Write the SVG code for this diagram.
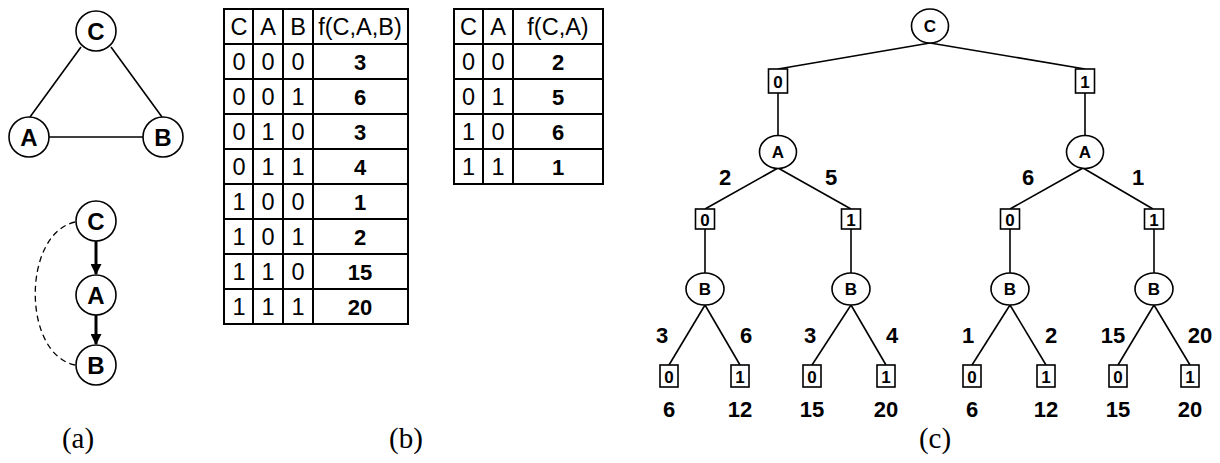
<svg xmlns="http://www.w3.org/2000/svg" width="1220" height="463" viewBox="0 0 1220 463">
<style>
.n{fill:#fff;stroke:#000;stroke-width:1.6}
.e{stroke:#000;stroke-width:1.6;fill:none}
.t{stroke:#000;stroke-width:2;fill:none}
.lb{font-family:"Liberation Sans",Arial,sans-serif;font-weight:bold;text-anchor:middle;fill:#000}
.tx{font-family:"Liberation Sans",Arial,sans-serif;text-anchor:middle;fill:#000;font-size:23.5px}
.tb{font-family:"Liberation Sans",Arial,sans-serif;font-weight:bold;text-anchor:middle;fill:#000;font-size:22px}
.cap{font-family:"Liberation Serif","Times New Roman",serif;text-anchor:middle;fill:#000;font-size:29px}
</style>
<defs>
<marker id="ah" markerWidth="11" markerHeight="11" refX="10" refY="5.5" orient="auto" markerUnits="userSpaceOnUse">
<path d="M0,0 L11,5.5 L0,11 Z" fill="#000"/>
</marker>
</defs>
<rect width="1220" height="463" fill="#fff"/>

<g id="connectors">
<line class="e" x1="81" y1="47" x2="30" y2="117"/>
<line class="e" x1="111" y1="47" x2="162" y2="117"/>
<line class="e" x1="49" y1="137" x2="143" y2="137"/>
<line x1="96" y1="241" x2="96" y2="274" stroke="#000" stroke-width="3" marker-end="url(#ah)"/>
<line x1="96" y1="315" x2="96" y2="344" stroke="#000" stroke-width="3" marker-end="url(#ah)"/>
<path d="M75,222 C22,234 22,354 75,365" fill="none" stroke="#000" stroke-width="1.3" stroke-dasharray="6,4"/>
<line class="e" x1="930" y1="43" x2="778" y2="69"/>
<line class="e" x1="930" y1="43" x2="1085" y2="69"/>
<line class="e" x1="778" y1="93" x2="778" y2="136"/>
<line class="e" x1="1085" y1="93" x2="1085" y2="136"/>
<line class="e" x1="778" y1="168" x2="705" y2="209"/>
<line class="e" x1="778" y1="168" x2="851" y2="209"/>
<line class="e" x1="1083" y1="168" x2="1010" y2="209"/>
<line class="e" x1="1083" y1="168" x2="1153" y2="209"/>
<line class="e" x1="705" y1="229" x2="705" y2="273"/>
<line class="e" x1="851" y1="229" x2="851" y2="273"/>
<line class="e" x1="1010" y1="229" x2="1010" y2="273"/>
<line class="e" x1="1154" y1="229" x2="1154" y2="273"/>
<line class="e" x1="705" y1="305" x2="669" y2="365"/>
<line class="e" x1="705" y1="305" x2="740" y2="365"/>
<line class="e" x1="851" y1="305" x2="812" y2="365"/>
<line class="e" x1="851" y1="305" x2="886" y2="365"/>
<line class="e" x1="1010" y1="305" x2="972" y2="365"/>
<line class="e" x1="1010" y1="305" x2="1046" y2="365"/>
<line class="e" x1="1154" y1="305" x2="1118" y2="365"/>
<line class="e" x1="1154" y1="305" x2="1190" y2="365"/>
</g>

<g id="a-undirected">
<g id="a1-C"><circle class="n" cx="96" cy="31" r="20"/><text class="lb" x="96" y="39.5" font-size="24">C</text></g>
<g id="a1-A"><circle class="n" cx="29" cy="137" r="20"/><text class="lb" x="29" y="145.5" font-size="24">A</text></g>
<g id="a1-B"><circle class="n" cx="163" cy="137" r="20"/><text class="lb" x="163" y="145.5" font-size="24">B</text></g>
</g>
<g id="a-directed">
<g id="a2-C"><circle class="n" cx="96" cy="221" r="20"/><text class="lb" x="96" y="229.5" font-size="24">C</text></g>
<g id="a2-A"><circle class="n" cx="96" cy="295" r="20"/><text class="lb" x="96" y="303.5" font-size="24">A</text></g>
<g id="a2-B"><circle class="n" cx="96" cy="365" r="20"/><text class="lb" x="96" y="373.5" font-size="24">B</text></g>
</g>
<text class="cap" x="78" y="448">(a)</text>

<g id="table-CAB">
<rect class="t" x="224" y="9" width="184" height="315"/>
<path class="t" d="M253,9V324M283,9V324M313,9V324M224,44H408M224,79H408M224,114H408M224,149H408M224,184H408M224,219H408M224,254H408M224,289H408"/>
<g class="tx">
<text x="239" y="35">C</text><text x="268" y="35">A</text><text x="298" y="35">B</text><text x="360" y="35">f(C,A,B)</text>
<text x="239" y="70">0</text><text x="268" y="70">0</text><text x="298" y="70">0</text>
<text x="239" y="105">0</text><text x="268" y="105">0</text><text x="298" y="105">1</text>
<text x="239" y="140">0</text><text x="268" y="140">1</text><text x="298" y="140">0</text>
<text x="239" y="175">0</text><text x="268" y="175">1</text><text x="298" y="175">1</text>
<text x="239" y="210">1</text><text x="268" y="210">0</text><text x="298" y="210">0</text>
<text x="239" y="245">1</text><text x="268" y="245">0</text><text x="298" y="245">1</text>
<text x="239" y="280">1</text><text x="268" y="280">1</text><text x="298" y="280">0</text>
<text x="239" y="315">1</text><text x="268" y="315">1</text><text x="298" y="315">1</text>
</g>
<g class="tb">
<text x="360" y="70">3</text><text x="360" y="105">6</text><text x="360" y="140">3</text><text x="360" y="175">4</text>
<text x="360" y="210">1</text><text x="360" y="245">2</text><text x="360" y="280">15</text><text x="360" y="315">20</text>
</g>
</g>

<g id="table-CA">
<rect class="t" x="454" y="9" width="149" height="175"/>
<path class="t" d="M483,9V184M513,9V184M454,44H603M454,79H603M454,114H603M454,149H603"/>
<g class="tx">
<text x="468.5" y="35">C</text><text x="498" y="35">A</text><text x="558" y="35">f(C,A)</text>
<text x="468.5" y="70">0</text><text x="498" y="70">0</text>
<text x="468.5" y="105">0</text><text x="498" y="105">1</text>
<text x="468.5" y="140">1</text><text x="498" y="140">0</text>
<text x="468.5" y="175">1</text><text x="498" y="175">1</text>
</g>
<g class="tb">
<text x="558" y="70">2</text><text x="558" y="105">5</text><text x="558" y="140">6</text><text x="558" y="175">1</text>
</g>
</g>
<text class="cap" x="406" y="448">(b)</text>

<g id="tree">
<g id="t-C"><ellipse class="n" cx="930" cy="26" rx="18.5" ry="17"/><text class="lb" x="930" y="32" font-size="17">C</text></g>
<g id="t-0"><rect class="n" x="768.5" y="69" width="19" height="24"/><text class="lb" x="778" y="87.5" font-size="17">0</text></g>
<g id="t-1"><rect class="n" x="1075.5" y="69" width="19" height="24"/><text class="lb" x="1085" y="87.5" font-size="17">1</text></g>
<g id="t-A0"><ellipse class="n" cx="778" cy="152" rx="18.5" ry="16.5"/><text class="lb" x="778" y="158" font-size="17">A</text></g>
<g id="t-A1"><ellipse class="n" cx="1085" cy="152" rx="18.5" ry="16.5"/><text class="lb" x="1085" y="158" font-size="17">A</text></g>
<g id="t-00"><rect class="n" x="695.5" y="209" width="19" height="20"/><text class="lb" x="705" y="225.5" font-size="17">0</text></g>
<g id="t-01"><rect class="n" x="841.5" y="209" width="19" height="20"/><text class="lb" x="851" y="225.5" font-size="17">1</text></g>
<g id="t-10"><rect class="n" x="1000.5" y="209" width="19" height="20"/><text class="lb" x="1010" y="225.5" font-size="17">0</text></g>
<g id="t-11"><rect class="n" x="1144.5" y="209" width="19" height="20"/><text class="lb" x="1154" y="225.5" font-size="17">1</text></g>
<g id="t-B00"><ellipse class="n" cx="705" cy="289" rx="19" ry="16"/><text class="lb" x="705" y="295" font-size="17">B</text></g>
<g id="t-B01"><ellipse class="n" cx="851" cy="289" rx="19" ry="16"/><text class="lb" x="851" y="295" font-size="17">B</text></g>
<g id="t-B10"><ellipse class="n" cx="1010" cy="289" rx="19" ry="16"/><text class="lb" x="1010" y="295" font-size="17">B</text></g>
<g id="t-B11"><ellipse class="n" cx="1154" cy="289" rx="19" ry="16"/><text class="lb" x="1154" y="295" font-size="17">B</text></g>
<g id="t-leaf1"><rect class="n" x="660" y="365" width="18" height="22"/><text class="lb" x="669" y="382.5" font-size="17">0</text></g>
<g id="t-leaf2"><rect class="n" x="731" y="365" width="18" height="22"/><text class="lb" x="740" y="382.5" font-size="17">1</text></g>
<g id="t-leaf3"><rect class="n" x="803" y="365" width="18" height="22"/><text class="lb" x="812" y="382.5" font-size="17">0</text></g>
<g id="t-leaf4"><rect class="n" x="877" y="365" width="18" height="22"/><text class="lb" x="886" y="382.5" font-size="17">1</text></g>
<g id="t-leaf5"><rect class="n" x="963" y="365" width="18" height="22"/><text class="lb" x="972" y="382.5" font-size="17">0</text></g>
<g id="t-leaf6"><rect class="n" x="1037" y="365" width="18" height="22"/><text class="lb" x="1046" y="382.5" font-size="17">1</text></g>
<g id="t-leaf7"><rect class="n" x="1109" y="365" width="18" height="22"/><text class="lb" x="1118" y="382.5" font-size="17">0</text></g>
<g id="t-leaf8"><rect class="n" x="1181" y="365" width="18" height="22"/><text class="lb" x="1190" y="382.5" font-size="17">1</text></g>
<g class="tb">
<text x="725" y="185">2</text><text x="831" y="185">5</text><text x="1028" y="185">6</text><text x="1138" y="185">1</text>
<text x="662" y="343">3</text><text x="746" y="343">6</text><text x="810" y="343">3</text><text x="892" y="343">4</text>
<text x="968" y="343">1</text><text x="1051" y="343">2</text><text x="1113" y="343">15</text><text x="1200" y="343">20</text>
<text x="669" y="417">6</text><text x="740" y="417">12</text><text x="812" y="417">15</text><text x="886" y="417">20</text>
<text x="972" y="417">6</text><text x="1046" y="417">12</text><text x="1118" y="417">15</text><text x="1190" y="417">20</text>
</g>
</g>
<text class="cap" x="935" y="448">(c)</text>
</svg>
